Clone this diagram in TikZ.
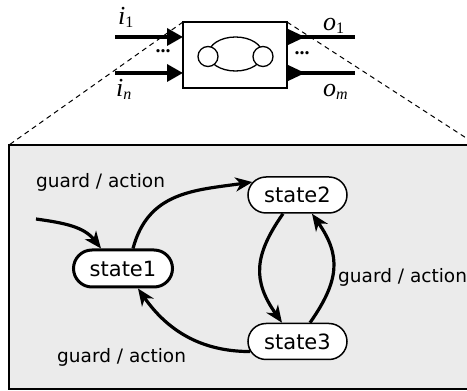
\documentclass[tikz,border=0pt]{standalone}
\usepackage{fontspec}
\setmainfont{DejaVu Sans}
\newfontfamily\tms{Liberation Serif}
\usetikzlibrary{arrows.meta,shapes.misc,calc}
\definecolor{panelgray}{RGB}{235,235,235}
\begin{document}
\begin{tikzpicture}[x=1pt,y=1pt,
  statebox/.style={rounded rectangle, draw, fill=white, minimum width=99pt,
    minimum height=36pt, inner sep=0pt, line width=1.5pt,
    font=\fontsize{21}{21}\selectfont},
  edge/.style={line width=3.2pt, -{Stealth[length=17pt,width=14pt,inset=5pt]}},
  lbl/.style={font=\fontsize{18.5}{18.5}\selectfont, inner sep=0pt, anchor=base west},
  mlbl/.style={font=\tms\itshape\fontsize{26}{26}\selectfont, inner sep=0pt, anchor=base west},
  dotlbl/.style={font=\tms\bfseries\fontsize{20}{20}\selectfont, inner sep=0pt},
  ioline/.style={line width=3.4pt},
  inarrow/.style={line width=3.4pt, -{Triangle[length=16pt,width=17pt]}},
  zoomline/.style={line width=1pt, dash pattern=on 5pt off 4pt},
  thin/.style={line width=1.3pt},
  ]
\useasboundingbox (0,0) rectangle (467,391);
\begin{scope}
\clip (0,0) rectangle (467,391);
% panel
\node[draw, line width=2pt, fill=panelgray, anchor=south west, inner sep=0pt,
  outer sep=0pt, minimum width=461pt, minimum height=244pt] (panel) at (9,2) {};
\coordinate (dashend) at (477,246);
% top box
\node[draw, thin, fill=white, minimum width=104pt, minimum height=66pt,
  inner sep=0pt, outer sep=0pt] (box) at (235,336) {};
\draw[zoomline] (box.north west) -- (panel.north west);
\draw[zoomline] (box.north east) -- (dashend);
\draw[thin] (235.5,337) ellipse [x radius=27, y radius=17];
\node[circle, draw, thin, fill=white, minimum size=20pt, inner sep=0pt] (cl) at (208,334.5) {};
\node[circle, draw, thin, fill=white, minimum size=20pt, inner sep=0pt] (cr) at (263,334.5) {};
% inputs
\coordinate (in1) at ($(box.west)+(0,18)$);
\coordinate (inn) at ($(box.west)+(0,-18)$);
\coordinate (i1s) at (115,354);
\coordinate (ins) at (115,318);
\draw[inarrow] (i1s) -- (in1);
\draw[inarrow] (ins) -- (inn);
% outputs
\coordinate (out1) at ($(box.east)+(0,18)$);
\coordinate (outm) at ($(box.east)+(0,-18)$);
\coordinate (o1e) at (355,354);
\coordinate (ome) at (355,318);
\draw[ioline] (out1) -- (o1e);
\draw[ioline] (outm) -- (ome);
\fill ($(out1)+(0,8.5)$) -- ($(out1)+(18,0)$) -- ($(out1)+(0,-8.5)$) -- cycle;
\fill ($(outm)+(0,8.5)$) -- ($(outm)+(18,0)$) -- ($(outm)+(0,-8.5)$) -- cycle;
% io labels
\node[mlbl] (li1) at (118,366) {i\raisebox{-3pt}{\fontsize{16}{16}\selectfont\upshape 1}};
\node[mlbl] (lin) at (116,294) {i\raisebox{-3pt}{\fontsize{16}{16}\selectfont n}};
\node[mlbl] (lo1) at (323,360) {o\raisebox{-3pt}{\fontsize{16}{16}\selectfont\upshape 1}};
\node[mlbl] (lom) at (323,294) {o\raisebox{-3pt}{\fontsize{16}{16}\selectfont m}};
\node[dotlbl] (dl) at (163,340) {...};
\node[dotlbl] (dr) at (302,338) {...};
% states
\node[statebox, line width=3pt, minimum height=37pt] (s1) at (123,122.5) {state1};
\node[statebox] (s2) at (297.5,196) {state2};
\node[statebox] (s3) at (297.5,49.5) {state3};
\coordinate (init) at (36,172);
% edges
\draw[edge] (init) to[out=-8,in=128] ([xshift=-22pt]s1.north);
\draw[edge] ([xshift=10pt]s1.north) to[out=75,in=188,looseness=1.1] (s2.164);
\draw[edge] ([xshift=-14.5pt]s2.south) to[out=235,in=125,looseness=1.2] ([xshift=-15.5pt]s3.north);
\draw[edge] ([xshift=12.5pt]s3.north) to[out=55,in=-55,looseness=1.2] ([xshift=14.5pt]s2.south);
\draw[edge] (s3.192) to[out=180,in=-55] ([xshift=15pt]s1.south);
% labels
\node[lbl] (g1) at (36,203) {guard / action};
\node[lbl] (g2) at (338,108) {guard / action};
\node[lbl] (g3) at (57,28) {guard / action};
\end{scope}
\end{tikzpicture}
\end{document}
